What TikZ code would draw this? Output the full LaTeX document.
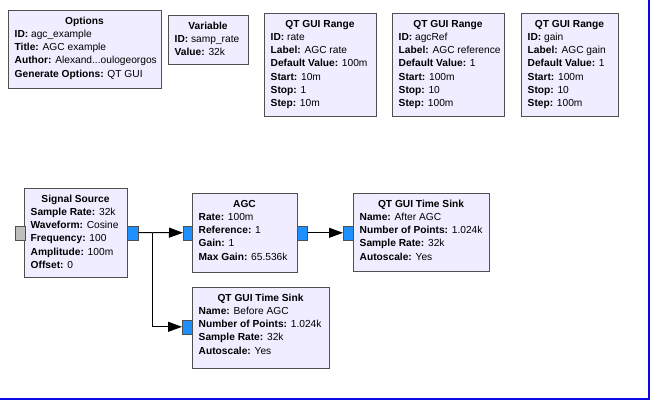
\documentclass[tikz,border=0pt]{standalone}
\usepackage{fontspec}
\setmainfont{Liberation Sans}
\usepackage{tikz}
\usetikzlibrary{arrows.meta}

\definecolor{blkfill}{RGB}{239,237,255}
\definecolor{blkline}{RGB}{80,80,80}
\definecolor{portblue}{RGB}{30,144,255}
\definecolor{portgray}{RGB}{190,190,190}
\definecolor{frameblue}{RGB}{10,10,230}

% one flowgraph block: name, x, y (top left), width, height, title, key/value list
\newcommand{\grcblock}[7]{%
  \node[blk, minimum width=#4pt, minimum height=#5pt] (#1) at (#2,#3) {};
  \node[blktitle] (#1-title) at ({#2+#4/2},{#3+14}) {#6};
  \foreach \k/\v [count=\i] in {#7}
    \node[blkparam] (#1-\i) at ({#2+6.5},{#3+14+13.3*\i}) {\textbf{\k:} \v};
}

\begin{document}
\begin{tikzpicture}[x=1pt, y=-1pt,
    font=\fontsize{10.2}{12}\selectfont,
    blk/.style={draw=blkline, fill=blkfill, line width=0.8pt, anchor=north west, inner sep=0pt},
    blktitle/.style={anchor=base, inner sep=0pt, font=\fontsize{10.2}{12}\selectfont\bfseries},
    blkparam/.style={anchor=base west, inner sep=0pt},
    port/.style={draw=blkline, fill=portblue, line width=0.6pt, anchor=north west,
      inner sep=0pt, minimum width=10pt, minimum height=14pt},
    wire/.style={line width=1pt},
    conn/.style={wire, -{Triangle[length=14pt,width=10pt]}}]
    \useasboundingbox (0,0) rectangle (650,400);
    % Variables row
    \grcblock{opts}{8}{10}{153}{78}{Options}{ID/agc\_example, Title/AGC example,
      Author/{Alexand...oulogeorgos}, Generate Options/QT GUI}
    \grcblock{var}{168}{15}{80}{49}{Variable}{ID/samp\_rate, Value/32k}
    \grcblock{rate}{264}{13}{112}{103}{QT GUI Range}{ID/rate, Label/AGC rate,
      Default Value/100m, Start/10m, Stop/1, Step/10m}
    \grcblock{ref}{392}{13}{112}{103}{QT GUI Range}{ID/agcRef, Label/AGC reference,
      Default Value/1, Start/100m, Stop/10, Step/100m}
    \grcblock{gain}{521}{13}{97}{103}{QT GUI Range}{ID/gain, Label/AGC gain,
      Default Value/1, Start/100m, Stop/10, Step/100m}
    % Signal path blocks
    \grcblock{src}{24}{188}{103}{89}{Signal Source}{Sample Rate/32k, Waveform/Cosine,
      Frequency/100, Amplitude/100m, Offset/0}
    \grcblock{agc}{192}{193}{105}{79}{AGC}{Rate/100m, Reference/1, Gain/1,
      Max Gain/65.536k}
    \grcblock{snka}{353}{193}{136}{78}{QT GUI Time Sink}{Name/After AGC,
      Number of Points/1.024k, Sample Rate/32k, Autoscale/Yes}
    \grcblock{snkb}{192}{287}{137}{81}{QT GUI Time Sink}{Name/Before AGC,
      Number of Points/1.024k, Sample Rate/32k, Autoscale/Yes}
    % Ports
    \node[port, fill=portgray] (src-in) at (15,225.5) {};
    \node[port, minimum width=11pt] (src-out) at (127,225.5) {};
    \node[port, minimum width=9pt] (agc-in) at (183,225.5) {};
    \node[port] (agc-out) at (297,225.5) {};
    \node[port] (snka-in) at (343,225.5) {};
    \node[port] (snkb-in) at (182,319.5) {};
    % Connections
    \coordinate (split) at (152.5,232.5);
    \draw[wire] (src-out) -- (split);
    \draw[conn] (split) -- (agc-in);
    \draw[conn] (split) |- (snkb-in);
    \draw[conn] (agc-out) -- (snka-in);
    % Frame on the right and bottom
    \draw[frameblue, line width=2pt] (649,0) -- (649,399) -- (0,399);
\end{tikzpicture}
\end{document}
